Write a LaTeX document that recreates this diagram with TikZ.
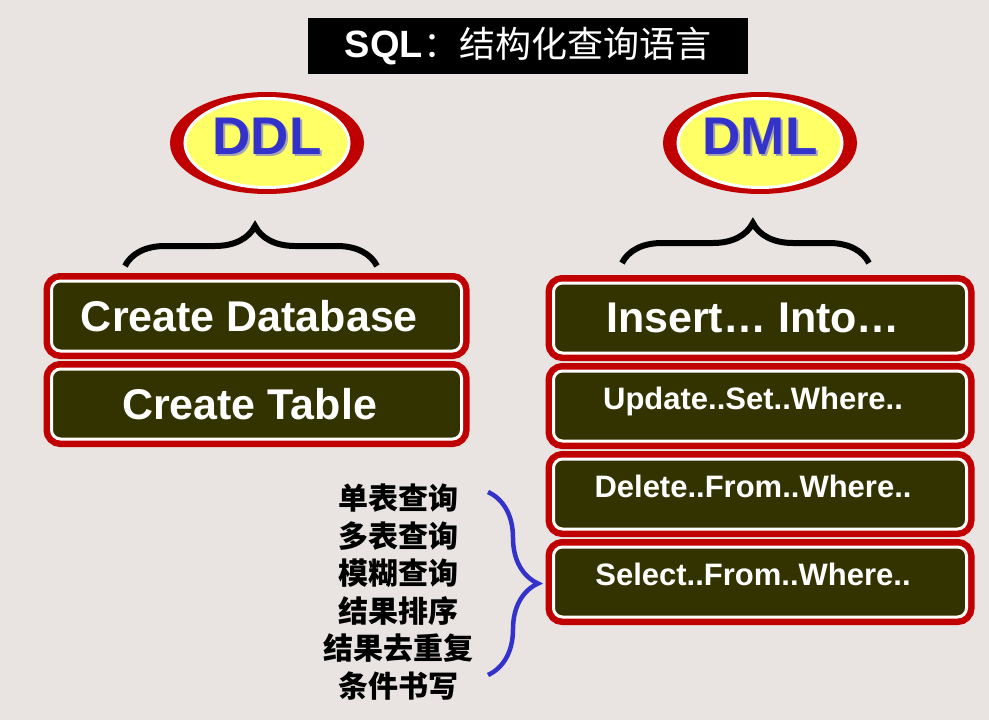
\documentclass[tikz,border=0pt]{standalone}
\usepackage{fontspec}
\setmainfont{Liberation Sans}
\newfontfamily\cjk{Noto Sans CJK SC}
\usetikzlibrary{positioning,shapes.geometric,decorations.pathreplacing}
\definecolor{bgpale}{RGB}{233,227,225}
\definecolor{ringred}{RGB}{192,0,0}
\definecolor{ovyellow}{RGB}{255,255,102}
\definecolor{ovblue}{RGB}{51,51,204}
\definecolor{boxolive}{RGB}{51,51,0}
\definecolor{shadowgray}{RGB}{165,165,175}
% word with a soft grey shadow behind it
\newcommand\ovalword[1]{\makebox[0pt][l]{\hspace{2pt}\raisebox{-2pt}{\textcolor{shadowgray}{#1}}}#1}

\begin{document}
\begin{tikzpicture}[x=1pt,y=-1pt,node distance=15pt]
  \tikzstyle{ring}=[ellipse,fill=ringred,minimum width=194pt,minimum height=102pt,inner sep=0pt]
  \tikzstyle{oval}=[ellipse,fill=ovyellow,draw=white,line width=3pt,minimum width=164pt,minimum height=89pt,inner sep=0pt]
  \tikzstyle{ovaltxt}=[font=\bfseries\fontsize{53}{53}\selectfont,text=ovblue,inner sep=0pt]
  \tikzstyle{cmdbox}=[rectangle,rounded corners=9pt,fill=boxolive,draw=white,line width=3pt,text=white,
    preaction={draw=ringred,line width=16pt},minimum height=70pt,inner sep=0pt,
    execute at end node={\hspace*{14pt}}]
  \tikzstyle{bigtxt}=[font=\bfseries\fontsize{43}{43}\selectfont]
  \tikzstyle{smalltxt}=[font=\bfseries\fontsize{31}{31}\selectfont,text height=22pt,text depth=15pt]
  \tikzstyle{bracepen}=[line width=6pt,decorate]
  \useasboundingbox (0,0) rectangle (989,720);
  \fill[bgpale] (0,0) rectangle (989,720);
  % title
  \node[fill=black,text=white,minimum width=440pt,minimum height=56pt,inner sep=0pt] (title) at (528,46)
    {\fontsize{38}{38}\selectfont\textbf{SQL}{\cjk\fontsize{36}{36}\selectfont ：结构化查询语言}};
  % the two ovals
  \node[ring] (ddlring) at (267,143) {};
  \node[oval] (ddl) at (ddlring) {};
  \node[ovaltxt] (ddltxt) at ([yshift=6pt]ddl.center) {\ovalword{DDL}};
  \node[ring] (dmlring) at (760,143) {};
  \node[oval] (dml) at (dmlring) {};
  \node[ovaltxt] (dmltxt) at ([yshift=6pt]dml.center) {\ovalword{DML}};
  % braces
  \coordinate (ddlbl) at (125,266);
  \coordinate (ddlbr) at (377,266);
  \coordinate (dmlbl) at (622,263);
  \coordinate (dmlbr) at (869,263);
  \draw[bracepen,decoration={brace,amplitude=40pt,aspect=0.516}] (ddlbl) -- (ddlbr);
  \draw[bracepen,decoration={brace,amplitude=40pt,aspect=0.53}] (dmlbl) -- (dmlbr);
  % DDL commands
  \node[cmdbox,bigtxt,minimum width=410pt] (cdb) at (256.5,316) {Create Database};
  \node[cmdbox,bigtxt,minimum width=410pt,below=of cdb] (ctb) {Create Table};
  % DML commands
  \node[cmdbox,bigtxt,minimum width=413pt] (ins) at (760,318) {Insert… Into…};
  \node[cmdbox,smalltxt,minimum width=413pt,below=of ins] (upd) {Update..Set..Where..};
  \node[cmdbox,smalltxt,minimum width=413pt,below=of upd] (del) {Delete..From..Where..};
  \node[cmdbox,smalltxt,minimum width=413pt,below=of del] (sel) {Select..From..Where..};
  % query kinds
  \node[align=center,font=\cjk\bfseries\fontsize{30}{37.5}\selectfont] (qlist) at (398,592)
    {单表查询\\多表查询\\模糊查询\\结果排序\\结果去重复\\条件书写};
  \coordinate (qtop) at (488,492);
  \coordinate (qbot) at (488,675);
  \draw[line width=4.5pt,ovblue,decorate,decoration={brace,amplitude=50pt,aspect=0.5}] (qtop) -- (qbot);
\end{tikzpicture}
\end{document}
